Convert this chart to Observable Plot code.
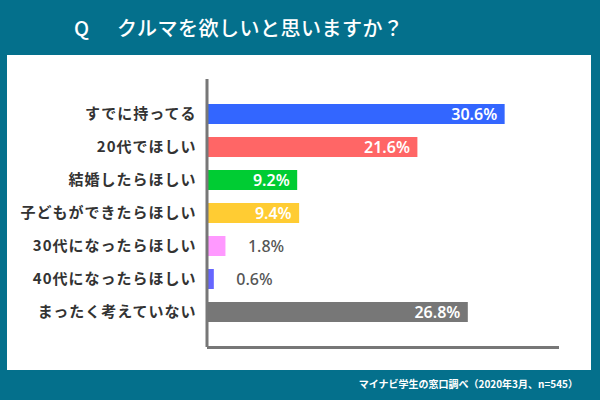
<!DOCTYPE html>
<html>
<head>
<meta charset="utf-8">
<script src="https://cdn.jsdelivr.net/npm/d3@7"></script>
<script src="https://cdn.jsdelivr.net/npm/@observablehq/plot@0.6"></script>
<style>
  html, body { margin: 0; padding: 0; }
  body { width: 600px; height: 400px; background: #04708c; position: relative; overflow: hidden;
         font-family: "Noto Sans CJK JP", "Noto Sans", sans-serif; }
  #title { position: absolute; left: 74px; top: 12px; color: #fff; font-size: 20px; font-weight: 500;
           letter-spacing: 0.5px; white-space: nowrap; line-height: 32px; }
  #title .q { display: inline-block; width: 43px; }
  #panel { position: absolute; left: 7px; top: 55px; width: 584px; height: 315px; background: #fff; }
  #panel svg { display: block; }
  #panel svg g[aria-label="y-axis tick label"] text { letter-spacing: 1px; }
  #footer { position: absolute; right: 22px; top: 376px; color: #fff; font-size: 10px; font-weight: 700;
            white-space: nowrap; }
</style>
</head>
<body>
<div id="title"><span class="q">Q</span>クルマを欲しいと思いますか？</div>
<div id="panel"></div>
<div id="footer">マイナビ学生の窓口調べ（2020年3月、n=545）</div>
<script>
const categories = ["すでに持ってる", "20代でほしい", "結婚したらほしい", "子どもができたらほしい", "30代になったらほしい", "40代になったらほしい", "まったく考えていない"];
const values = [30.6, 21.6, 9.2, 9.4, 1.8, 0.6, 26.8];
const colors = ["#3366ff", "#ff6666", "#00cc33", "#ffcc33", "#ff99ff", "#6666ff", "#777777"];
const labels = ["30.6%", "21.6%", "9.2%", "9.4%", "1.8%", "0.6%", "26.8%"];

const data = categories.map((c, i) => ({cat: c, value: values[i], color: colors[i], label: labels[i]}));
const inside = data.filter(d => d.value >= 5);
const outside = data.filter(d => d.value < 5);

const chart = Plot.plot({
  width: 584,
  height: 315,
  marginLeft: 201,
  marginRight: 34,
  marginTop: 24,
  marginBottom: 23,
  style: {fontFamily: "'Noto Sans CJK JP', 'Noto Sans', sans-serif", background: "#fff"},
  x: {domain: [0, 36], axis: null},
  y: {domain: categories, paddingInner: 0.38, paddingOuter: 0.66, label: null},
  marks: [
    Plot.barX(data, {y: "cat", x: "value", fill: "color"}),
    Plot.axisY({tickSize: 0, tickPadding: 12, fontSize: 15, fill: "#333", fontWeight: 600, label: null}),
    Plot.ruleX([0], {stroke: "#777", strokeWidth: 3, dx: -1.5}),
    Plot.frame({anchor: "bottom", stroke: "#777", strokeWidth: 3}),
    Plot.text(inside, {y: "cat", x: "value", text: "label", textAnchor: "end", dx: -8, fill: "#fff", fontSize: 16, fontWeight: 600, fontFamily: "'Noto Sans', sans-serif"}),
    Plot.text(outside, {y: "cat", x: "value", text: "label", textAnchor: "start", dx: 22, fill: "#555", fontSize: 16, fontWeight: 500, fontFamily: "'Noto Sans', sans-serif"})
  ]
});
document.getElementById("panel").appendChild(chart);
</script>
</body>
</html>
